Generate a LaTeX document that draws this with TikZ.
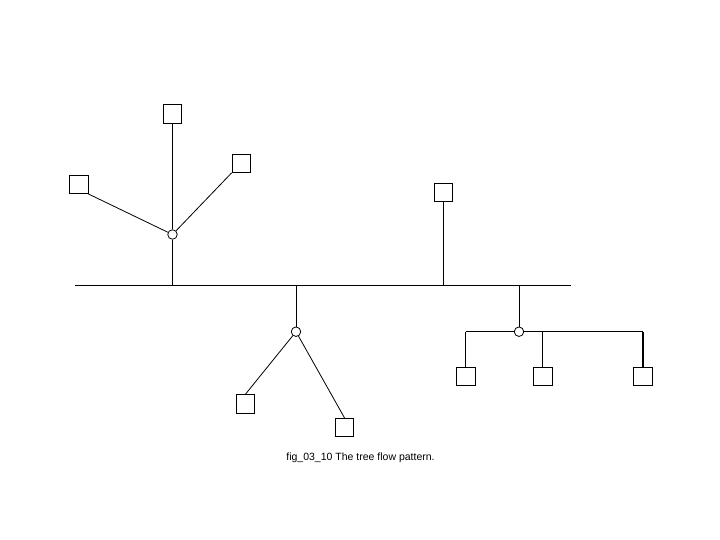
\documentclass[tikz,border=0pt]{standalone}
\usepackage{fontspec}
\setmainfont{Liberation Sans}
\usetikzlibrary{calc}

\begin{document}
\begin{tikzpicture}[x=1pt, y=-1pt, line width=0.8pt,
  leaf/.style={draw, minimum size=18.5pt, inner sep=0pt},
  hub/.style={draw, circle, minimum size=9.5pt, inner sep=0pt, fill=white}]
\useasboundingbox (0,0) rectangle (720,540);
% backbone
\coordinate (busL) at (75,285);
\coordinate (busR) at (570.5,285);
\draw[line width=1pt] (busL) -- (busR);
% upper left branch
\node[hub] (hubA) at (172.5,234.5) {};
\node[leaf] (sqA) at (78.7,184.3) {};
\node[leaf] (sqB) at (172.5,113.8) {};
\node[leaf] (sqC) at (241.3,163.2) {};
\draw (sqA.south east) -- (hubA); \draw (sqB.south) -- (hubA);
\draw (sqC.south west) -- (hubA); \draw (hubA) -- (hubA |- busL);
% single leaf on the backbone
\node[leaf] (sqD) at (443.5,192.5) {};
\draw (sqD.south) -- (sqD.south |- busL);
% lower middle branch
\node[hub] (hubB) at (296,331.7) {};
\node[leaf] (sqE) at (245.5,403.8) {};
\node[leaf] (sqF) at (344.5,427.5) {};
\draw (hubB |- busL) -- (hubB);
\draw (hubB) -- (sqE.north); \draw (hubB) -- (sqF.north);
% lower right branch
\node[hub] (hubC) at (519,331.7) {};
\node[leaf] (sqG) at (465.8,376.3) {};
\node[leaf] (sqH) at (542.8,376.3) {};
\node[leaf] (sqI) at (643,376.3) {};
\draw (hubC |- busL) -- (hubC);
\draw (hubC.west) -- (hubC.west -| sqG.north);
\draw (hubC.east) -- (hubC.east -| sqI.north);
\draw[line width=1.3pt] (sqG.north |- hubC) -- (sqG.north);
\draw[line width=1.3pt] (sqH.north |- hubC) -- (sqH.north);
\draw[line width=1.3pt] (sqI.north |- hubC) -- (sqI.north);
% caption
\node[font=\fontsize{10.5}{12}\selectfont, inner sep=0pt] (cap) at (360.5,458) {fig\_03\_10 The tree flow pattern.};
\end{tikzpicture}
\end{document}
